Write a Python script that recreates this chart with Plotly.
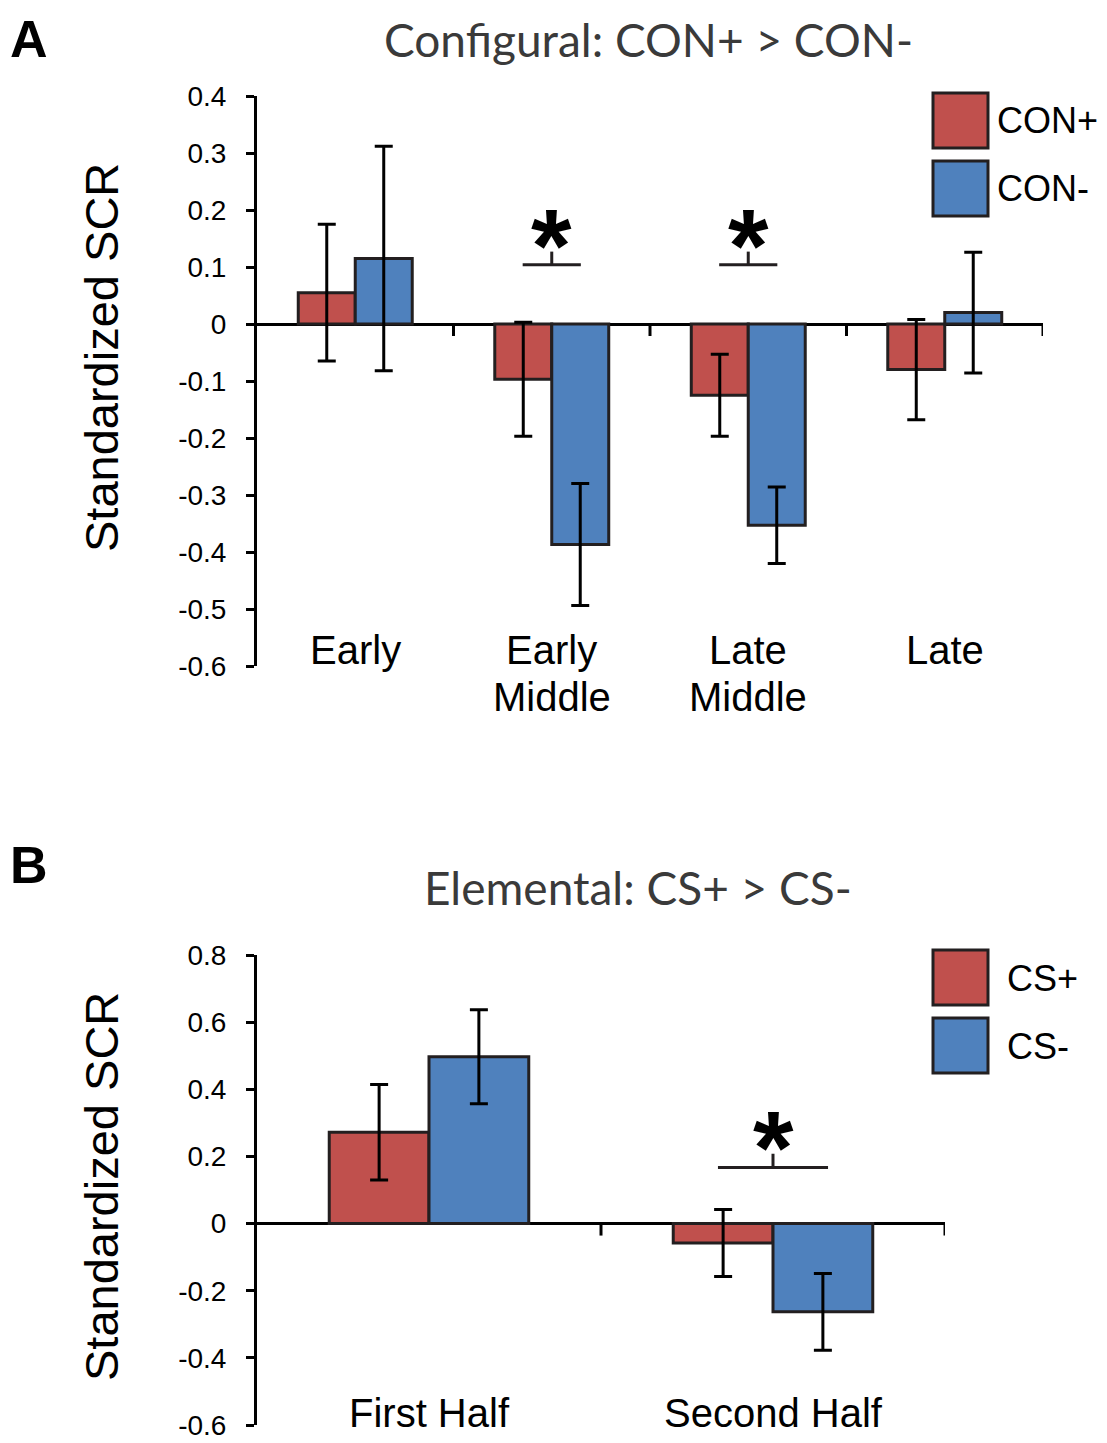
import plotly.graph_objects as go

# Panel A: configural conditioning, four phases
phases_a = ["Early", "Early Middle", "Late Middle", "Late"]
phase_labels_a = [["Early"], ["Early", "Middle"], ["Late", "Middle"], ["Late"]]
con_plus = [0.055, -0.097, -0.125, -0.080]
con_plus_err = [0.120, 0.100, 0.072, 0.088]
con_minus = [0.115, -0.387, -0.353, 0.020]
con_minus_err = [0.197, 0.107, 0.067, 0.106]
sig_a = ["Early Middle", "Late Middle"]
yticks_a = [0.4, 0.3, 0.2, 0.1, 0, -0.1, -0.2, -0.3, -0.4, -0.5, -0.6]
yticklabels_a = ["0.4", "0.3", "0.2", "0.1", "0", "-0.1", "-0.2", "-0.3", "-0.4", "-0.5", "-0.6"]

# Panel B: elemental conditioning, two halves
halves_b = ["First Half", "Second Half"]
cs_plus = [0.272, -0.058]
cs_plus_err = [0.142, 0.100]
cs_minus = [0.497, -0.263]
cs_minus_err = [0.140, 0.114]
sig_b = ["Second Half"]
yticks_b = [0.8, 0.6, 0.4, 0.2, 0, -0.2, -0.4, -0.6]
yticklabels_b = ["0.8", "0.6", "0.4", "0.2", "0", "-0.2", "-0.4", "-0.6"]

RED = "#C0504D"
BLUE = "#4F81BD"
EDGE = "#231F20"
FONT = "Liberation Sans, Arial, sans-serif"
TITLE_FONT = "Lato, Open Sans, sans-serif"

# the page body adds an 8px margin, so the figure is drawn 8px smaller
OFF = 8
W, H = 1107 - OFF, 1443 - OFF


def px(y):
    """page pixel row (from top) -> paper fraction"""
    return 1 - (y - OFF) / H


def pxx(x):
    """page pixel column -> paper fraction"""
    return (x - OFF) / W


def bar(x, y, err, color, xa, ya):
    return go.Bar(x=x, y=y, marker=dict(color=color, line=dict(color=EDGE, width=3)),
                  error_y=dict(type="data", array=err, visible=True, color="black",
                               thickness=3, width=9),
                  xaxis=xa, yaxis=ya, showlegend=False)


fig = go.Figure()
fig.add_trace(bar(phases_a, con_plus, con_plus_err, RED, "x", "y"))
fig.add_trace(bar(phases_a, con_minus, con_minus_err, BLUE, "x", "y"))
fig.add_trace(bar(halves_b, cs_plus, cs_plus_err, RED, "x2", "y2"))
fig.add_trace(bar(halves_b, cs_minus, cs_minus_err, BLUE, "x2", "y2"))

yax = dict(showline=True, linewidth=3, linecolor="black", ticks="outside", ticklen=8,
           tickwidth=3, tickcolor="black", showgrid=False, zeroline=True,
           zerolinecolor="black", zerolinewidth=3, automargin=False,
           ticklabeloverflow="allow", ticklabelstandoff=14,
           tickfont=dict(family=FONT, size=28, color="black"))
xax = dict(showticklabels=False, showline=False, ticks="", showgrid=False,
           zeroline=False, automargin=False)

fig.update_layout(
    template="none",
    width=W, height=H,
    margin=dict(l=0, r=0, t=0, b=0, pad=0),
    paper_bgcolor="white", plot_bgcolor="white",
    showlegend=False,
    barmode="group", bargap=0.42, bargroupgap=0,
    xaxis=dict(xax, domain=[pxx(257), pxx(1043)], range=[-0.5, 3.5], anchor="y"),
    yaxis=dict(yax, domain=[px(666), px(96)], range=[-0.6, 0.4], anchor="x",
               tickvals=yticks_a, ticktext=yticklabels_a),
    xaxis2=dict(xax, domain=[pxx(257), pxx(945)], range=[-0.5, 1.5], anchor="y2"),
    yaxis2=dict(yax, domain=[px(1425), px(955)], range=[-0.6, 0.8], anchor="x2",
                tickvals=yticks_b, ticktext=yticklabels_b),
)

ann = []
shapes = []

# category labels sit inside the bottom of each plot
for cat, lines in zip(phases_a, phase_labels_a):
    for j, line in enumerate(lines):
        ann.append(dict(x=cat, xref="x", y=px(650 + 47 * j), yref="paper", yanchor="middle",
                        text=line, showarrow=False,
                        font=dict(family=FONT, size=40, color="black")))
for cat in halves_b:
    ann.append(dict(x=cat, xref="x2", y=px(1413), yref="paper", yanchor="middle",
                    text=cat, showarrow=False, font=dict(family=FONT, size=40, color="black")))

# little ticks hanging from the zero line at category boundaries
for n, xr, yr in [(len(phases_a), "x", "y"), (len(halves_b), "x2", "y2")]:
    for i in range(1, n + 1):
        shapes.append(dict(type="line", xref=xr, yref=yr, ysizemode="pixel", yanchor=0,
                           x0=i - 0.5, x1=i - 0.5, y0=0, y1=-12,
                           line=dict(color="black", width=3)))


# significance brackets
def sig(cats, allcats, xr, yr, level, half, rise):
    for c in cats:
        i = allcats.index(c)
        shapes.append(dict(type="line", xref=xr, yref=yr, x0=i - half, x1=i + half,
                           y0=level, y1=level, line=dict(color=EDGE, width=3)))
        shapes.append(dict(type="line", xref=xr, yref=yr, x0=i, x1=i,
                           y0=level, y1=level + rise, line=dict(color=EDGE, width=3)))
        ann.append(dict(x=i, xref=xr, y=level + rise, yref=yr, yanchor="bottom",
                        yshift=-54, text="<b>*</b>", showarrow=False,
                        font=dict(family=FONT, size=104, color="black")))


sig(sig_a, phases_a, "x", "y", 0.104, 0.148, 0.023)
sig(sig_b, halves_b, "x2", "y2", 0.167, 0.16, 0.041)


# legends drawn by hand with large swatches
def legend(entries, top, text_x):
    for k, (name, color) in enumerate(entries):
        y0 = top + k * 68
        shapes.append(dict(type="rect", xref="paper", yref="paper",
                           x0=pxx(933), x1=pxx(988), y0=px(y0 + 55), y1=px(y0),
                           fillcolor=color, line=dict(color=EDGE, width=3)))
        ann.append(dict(x=pxx(text_x), xref="paper", y=px(y0 + 28), yref="paper",
                        xanchor="left", yanchor="middle", text=name, showarrow=False,
                        font=dict(family=FONT, size=36, color="black")))


legend([("CON+", RED), ("CON-", BLUE)], 93, 995)
legend([("CS+", RED), ("CS-", BLUE)], 950, 1005)

# titles, y titles, panel letters
for text, xc, yc in [("Configural: CON+ > CON-", 648, 40), ("Elemental: CS+ > CS-", 638, 888)]:
    ann.append(dict(x=pxx(xc), y=px(yc), xref="paper", yref="paper", text=text,
                    showarrow=False, xanchor="center", yanchor="middle",
                    font=dict(family=TITLE_FONT, size=46, color="#3a3a3a")))
for yc in [358, 1187]:
    ann.append(dict(x=pxx(101), y=px(yc), xref="paper", yref="paper", text="Standardized SCR",
                    showarrow=False, textangle=-90, xanchor="center", yanchor="middle",
                    font=dict(family=FONT, size=47, color="black")))
ann.append(dict(x=0, y=1, xref="paper", yref="paper", text="<b>A</b>", showarrow=False,
                xanchor="left", yanchor="top",
                font=dict(family=FONT, size=52, color="black")))
ann.append(dict(x=0, y=px(865), xref="paper", yref="paper", text="<b>B</b>", showarrow=False,
                xanchor="left", yanchor="middle",
                font=dict(family=FONT, size=52, color="black")))

fig.update_layout(annotations=ann, shapes=shapes)
fig.write_html("out.html")
